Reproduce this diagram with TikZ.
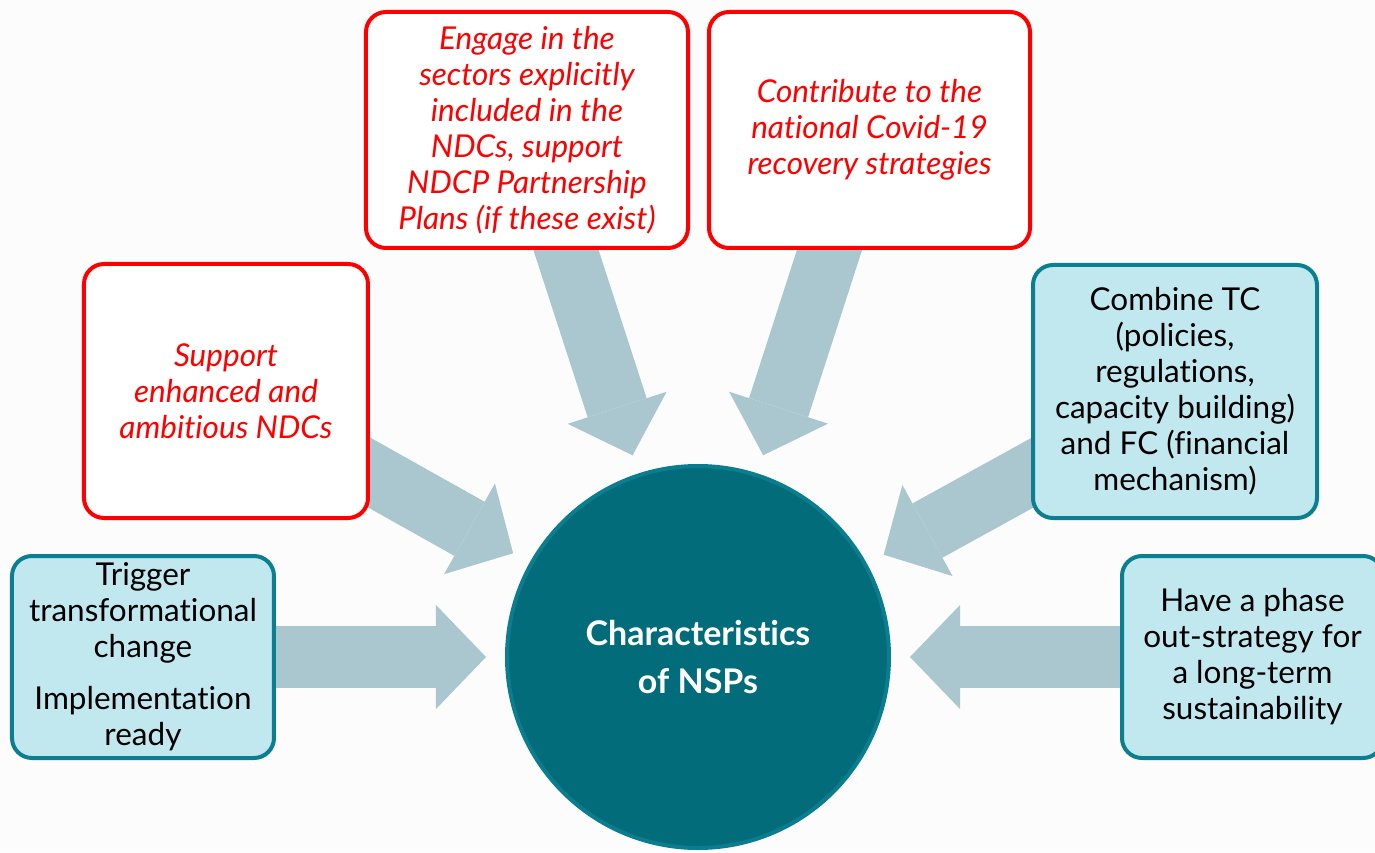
\documentclass[tikz,border=0pt]{standalone}
\usepackage{fontspec}
\setmainfont{Lato}[Ligatures={NoCommon}]
\usepackage{tikz}
\usetikzlibrary{positioning,arrows.meta,backgrounds}
\definecolor{pagebg}{HTML}{FCFCFC}
\definecolor{boxfill}{HTML}{C1E8EF}
\definecolor{boxline}{HTML}{0B7F90}
\definecolor{hubfill}{HTML}{036C7A}
\definecolor{hubline}{HTML}{0A7E8F}
\definecolor{arrowgray}{HTML}{AAC7D0}
\definecolor{ndcred}{HTML}{FF0000}

\begin{document}
\begin{tikzpicture}[x=1pt,y=1pt,on grid,
    tealbox/.style={draw=boxline,fill=boxfill,line width=4pt,rounded corners=20pt,
      align=center,inner sep=0pt,text=black,font=\fontsize{31.5}{36}\selectfont},
    redbox/.style={tealbox,draw=ndcred,fill=white,text=ndcred,
      font=\fontsize{31.5}{36}\selectfont\itshape},
    fatarrow/.style={draw=arrowgray,line width=62pt,
      -{Triangle[length=50pt,width=104pt,line width=0pt]},
      shorten <=-25pt,shorten >=19pt}]
  \useasboundingbox (-698,-195) rectangle (677,657);
  \node[circle,fill=hubfill,draw=hubline,line width=4pt,minimum size=382pt,
    inner sep=0pt,text=white,align=center,
    font=\fontsize{34}{49}\selectfont\bfseries] (hub) at (0,0) {Characteristics\\of NSPs};
  \node[tealbox,minimum width=262pt,minimum height=202pt] (trig) [left=555pt of hub]
    {Trigger\\transformational\\change\\[16pt]Implementation\\ready};
  \node[redbox,minimum width=284pt,minimum height=254pt] (supp) [above left=266pt and 472pt of hub]
    {Support\\enhanced and\\ambitious NDCs};
  \node[redbox,minimum width=322pt,minimum height=236pt] (eng) [above left=527pt and 171pt of hub]
    {Engage in the\\sectors explicitly\\included in the\\NDCs, support\\NDCP Partnership\\Plans (if these exist)};
  \node[redbox,minimum width=321pt,minimum height=236pt] (contr) [above right=527pt and 171.5pt of hub]
    {Contribute to the\\national Covid-19\\recovery strategies};
  \node[tealbox,minimum width=284pt,minimum height=253pt] (comb) [above right=265.5pt and 477pt of hub]
    {Combine TC\\(policies,\\regulations,\\capacity building)\\and FC (financial\\mechanism)};
  \node[tealbox,minimum width=261pt,minimum height=202pt] (phase) [right=554.5pt of hub]
    {Have a phase\\out-strategy for\\a long-term\\sustainability};
  %% arrows behind the boxes
  \begin{scope}[on background layer]
    \fill[pagebg] (-698,-195) rectangle (677,657);
    \draw[fatarrow] (trig.east) -- (hub);
    \draw[fatarrow] ([yshift=-82pt]supp.east) -- (hub);
    \draw[fatarrow] ([xshift=39pt]eng.south) -- (hub);
    \draw[fatarrow] ([xshift=-40pt]contr.south) -- (hub);
    \draw[fatarrow] ([yshift=-82pt]comb.west) -- (hub);
    \draw[fatarrow] (phase.west) -- (hub);
  \end{scope}
\end{tikzpicture}
\end{document}
